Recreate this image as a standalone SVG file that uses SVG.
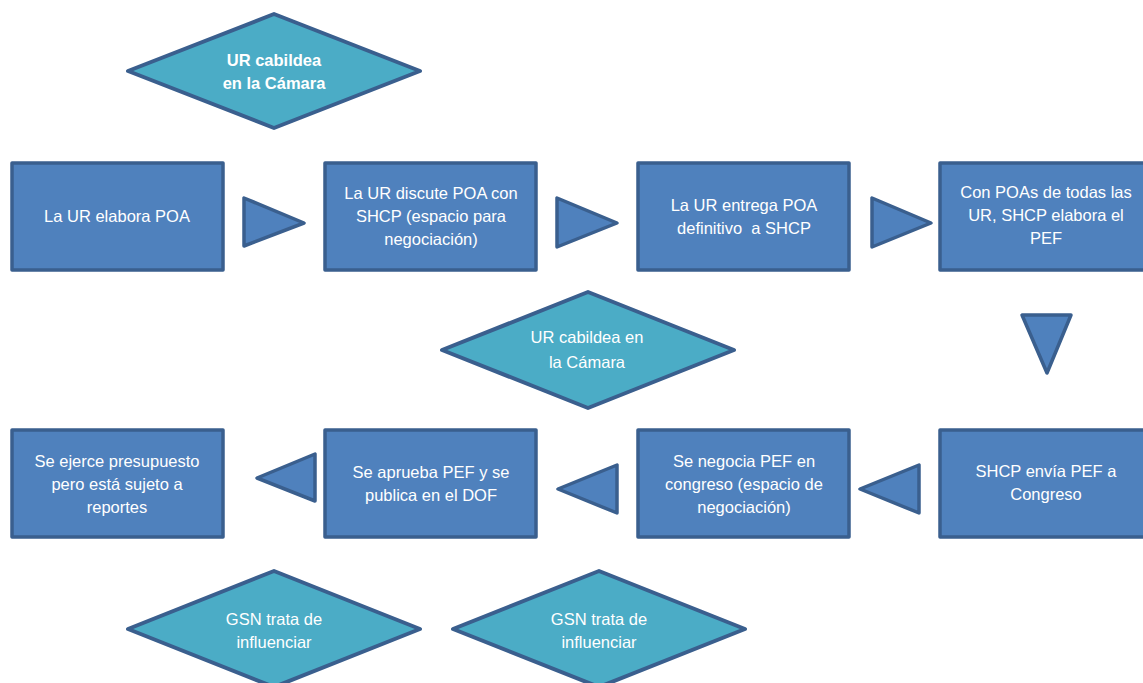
<svg xmlns="http://www.w3.org/2000/svg" width="1143" height="683" viewBox="0 0 1143 683">
<style>
.box{fill:#4F81BD;stroke:#3A5F8E;stroke-width:3.5;stroke-linejoin:round}
.dia{fill:#4BACC6;stroke:#3A5F8E;stroke-width:4;stroke-linejoin:round}
.arr{fill:#4F81BD;stroke:#3A5F8E;stroke-width:3.5;stroke-linejoin:round}
text{font-family:"Liberation Sans",Arial,sans-serif;font-size:16.5px;fill:#FFFFFF;text-anchor:middle}
.b{font-weight:bold}
</style>
<rect width="1143" height="683" fill="#FFFFFF"/>
<g id="d1"><polygon class="dia" points="128,71 274,14 420,71 274,128"/>
<text class="b" x="274" y="66">UR cabildea</text><text class="b" x="274" y="89">en la Cámara</text></g>
<g id="n1"><rect class="box" x="12" y="163" width="211" height="107"/>
<text x="117" y="222">La UR elabora POA</text></g>
<g id="n2"><rect class="box" x="325" y="163" width="211" height="107"/>
<text x="431" y="199">La UR discute POA con</text><text x="431" y="222">SHCP (espacio para</text><text x="431" y="245">negociación)</text></g>
<g id="n3"><rect class="box" x="638" y="163" width="211" height="107"/>
<text x="744" y="211">La UR entrega POA</text><text x="744" y="234" xml:space="preserve">definitivo  a SHCP</text></g>
<g id="n4"><rect class="box" x="940" y="163" width="215" height="107"/>
<text x="1046" y="198">Con POAs de todas las</text><text x="1046" y="221">UR, SHCP elabora el</text><text x="1046" y="244">PEF</text></g>
<g id="d2"><polygon class="dia" points="442,350 588,292 734,350 588,408"/>
<text x="587" y="343">UR cabildea en</text><text x="587" y="368">la Cámara</text></g>
<g id="n5"><rect class="box" x="12" y="430" width="211" height="107"/>
<text x="117" y="467">Se ejerce presupuesto</text><text x="117" y="490">pero está sujeto a</text><text x="117" y="513">reportes</text></g>
<g id="n6"><rect class="box" x="325" y="430" width="211" height="107"/>
<text x="431" y="478">Se aprueba PEF y se</text><text x="431" y="501">publica en el DOF</text></g>
<g id="n7"><rect class="box" x="638" y="430" width="211" height="107"/>
<text x="744" y="467">Se negocia PEF en</text><text x="744" y="490">congreso (espacio de</text><text x="744" y="513">negociación)</text></g>
<g id="n8"><rect class="box" x="940" y="430" width="215" height="107"/>
<text x="1046" y="477">SHCP envía PEF a</text><text x="1046" y="500">Congreso</text></g>
<g id="d3"><polygon class="dia" points="128,629 274,571 420,629 274,687"/>
<text x="274" y="625">GSN trata de</text><text x="274" y="648">influenciar</text></g>
<g id="d4"><polygon class="dia" points="453,629 599,571 745,629 599,687"/>
<text x="599" y="625">GSN trata de</text><text x="599" y="648">influenciar</text></g>
<g id="connectors">
<polygon class="arr" points="244,198 244,246 304,223"/>
<polygon class="arr" points="557,198 557,247 617,223"/>
<polygon class="arr" points="872,198 872,247 931,223"/>
<polygon class="arr" points="1022,315 1071,315 1047,373"/>
<polygon class="arr" points="919,465 919,513 860,489"/>
<polygon class="arr" points="617,465 617,513 558,489"/>
<polygon class="arr" points="315,454 315,501 257,478"/>
</g>
</svg>
